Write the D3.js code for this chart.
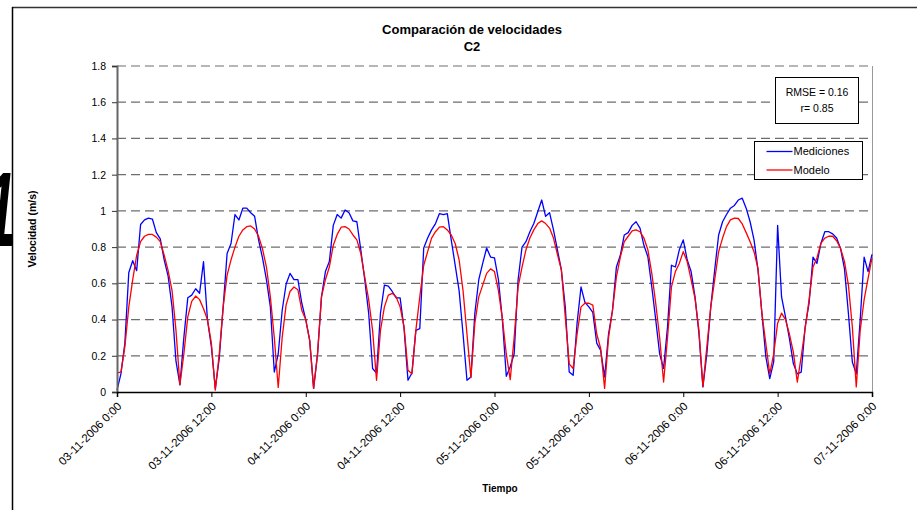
<!DOCTYPE html>
<html>
<head>
<meta charset="utf-8">
<script src="https://cdn.jsdelivr.net/npm/d3@7/dist/d3.min.js"></script>
<style>
  html, body { margin: 0; padding: 0; background: #fff; }
  svg { display: block; }
  text { font-family: Arial, "Liberation Sans", sans-serif; fill: #000; }
</style>
</head>
<body>
<svg id="chart" width="917" height="510"></svg>
<script>
// Half-hourly velocity series, 03-11-2006 0:00 to 07-11-2006 0:00 (m/s)
const startTime = "03-11-2006 0:00";
const stepMinutes = 30;

const mediciones = [
  0.01,0.10,0.27,0.66,0.725,0.67,0.925,0.95,0.96,0.955,0.88,0.845,0.73,0.64,0.47,0.17,0.04,0.30,0.52,0.535,0.57,0.545,0.72,0.40,
  0.25,0.02,0.185,0.47,0.765,0.82,0.98,0.95,1.015,1.015,0.99,0.97,0.84,0.74,0.62,0.47,0.11,0.21,0.45,0.595,0.655,0.62,0.62,0.49,
  0.40,0.285,0.02,0.21,0.525,0.665,0.72,0.92,0.98,0.96,1.005,0.99,0.945,0.94,0.785,0.62,0.435,0.13,0.105,0.435,0.59,0.585,0.555,0.52,
  0.52,0.35,0.065,0.105,0.34,0.35,0.795,0.85,0.895,0.93,0.985,0.98,0.985,0.84,0.70,0.56,0.32,0.065,0.083,0.435,0.62,0.71,0.795,0.745,
  0.74,0.62,0.40,0.087,0.14,0.21,0.62,0.80,0.83,0.885,0.93,0.995,1.06,0.97,0.99,0.895,0.785,0.675,0.47,0.11,0.092,0.38,0.58,0.495,
  0.47,0.44,0.27,0.23,0.083,0.32,0.45,0.69,0.755,0.867,0.88,0.92,0.94,0.905,0.81,0.747,0.58,0.40,0.21,0.13,0.36,0.70,0.69,0.785,
  0.84,0.73,0.665,0.525,0.32,0.028,0.21,0.47,0.675,0.867,0.94,0.98,1.015,1.03,1.06,1.07,1.015,0.94,0.84,0.675,0.435,0.195,0.074,0.166,
  0.92,0.525,0.415,0.295,0.157,0.10,0.11,0.36,0.49,0.745,0.71,0.82,0.885,0.885,0.873,0.85,0.793,0.68,0.435,0.166,0.10,0.40,0.745,0.665,
  0.76
];

const modelo = [
  0.105,0.11,0.25,0.47,0.62,0.755,0.83,0.86,0.87,0.87,0.855,0.83,0.755,0.67,0.56,0.34,0.04,0.21,0.415,0.50,0.53,0.51,0.46,0.40,
  0.27,0.01,0.21,0.47,0.645,0.73,0.80,0.86,0.895,0.913,0.917,0.90,0.86,0.79,0.69,0.525,0.30,0.025,0.30,0.48,0.555,0.58,0.565,0.45,
  0.40,0.285,0.02,0.21,0.525,0.62,0.69,0.81,0.87,0.91,0.913,0.90,0.867,0.84,0.765,0.635,0.51,0.34,0.065,0.34,0.47,0.535,0.545,0.525,
  0.47,0.36,0.12,0.10,0.34,0.525,0.70,0.775,0.85,0.885,0.91,0.913,0.895,0.867,0.82,0.73,0.56,0.32,0.08,0.38,0.525,0.59,0.655,0.68,
  0.665,0.56,0.405,0.21,0.068,0.30,0.58,0.69,0.785,0.85,0.895,0.93,0.945,0.93,0.905,0.85,0.76,0.675,0.415,0.155,0.13,0.32,0.47,0.49,
  0.49,0.48,0.32,0.24,0.02,0.30,0.45,0.635,0.745,0.83,0.86,0.89,0.895,0.885,0.85,0.785,0.655,0.49,0.30,0.055,0.30,0.58,0.665,0.71,
  0.775,0.72,0.62,0.515,0.34,0.03,0.25,0.47,0.62,0.775,0.85,0.913,0.95,0.96,0.958,0.928,0.88,0.83,0.775,0.683,0.435,0.268,0.10,0.21,
  0.38,0.435,0.40,0.32,0.22,0.055,0.195,0.35,0.51,0.69,0.74,0.82,0.85,0.86,0.86,0.835,0.793,0.72,0.59,0.36,0.028,0.34,0.51,0.627,
  0.74
];

const xTickLabels = [
  "03-11-2006 0:00","03-11-2006 12:00","04-11-2006 0:00","04-11-2006 12:00",
  "05-11-2006 0:00","05-11-2006 12:00","06-11-2006 0:00","06-11-2006 12:00","07-11-2006 0:00"
];
const yTicks = [0, 0.2, 0.4, 0.6, 0.8, 1, 1.2, 1.4, 1.6, 1.8];
const yTickLabels = ["0","0.2","0.4","0.6","0.8","1","1.2","1.4","1.6","1.8"];

const seriesNames = ["Mediciones", "Modelo"];
const seriesColors = ["#0000ff", "#ff0000"];
const statsLines = ["RMSE = 0.16", "r= 0.85"];

const parseTime = d3.timeParse("%d-%m-%Y %H:%M");
const t0 = parseTime(startTime);
const timeAt = i => d3.timeMinute.offset(t0, i * stepMinutes);
const xTickDates = xTickLabels.map(parseTime);

const svg = d3.select("#chart");

// page frame
svg.append("line").attr("x1", 12).attr("x2", 917).attr("y1", 7.5).attr("y2", 7.5)
  .attr("stroke", "#333").attr("stroke-width", 1.5);
svg.append("line").attr("x1", 12.5).attr("x2", 12.5).attr("y1", 7).attr("y2", 510)
  .attr("stroke", "#000").attr("stroke-width", 1.5);

// margin numeral
svg.append("text").text("1")
  .attr("transform", "translate(-15,246) scale(1,1.9)")
  .style("font-size", "56px").style("font-weight", "bold").style("font-style", "italic");

const plot = { left: 117, right: 872, top: 66, bottom: 392 };

const x = d3.scaleTime()
  .domain([xTickDates[0], xTickDates[xTickDates.length - 1]])
  .range([plot.left, plot.right]);
const y = d3.scaleLinear().domain([0, 1.8]).range([plot.bottom, plot.top]);

// dashed gridlines
svg.append("g").selectAll("line")
  .data(yTicks.filter(v => v > 0))
  .join("line")
  .attr("x1", plot.left).attr("x2", plot.right)
  .attr("y1", d => y(d)).attr("y2", d => y(d))
  .attr("stroke", "#6e6e6e").attr("stroke-width", 1.2)
  .attr("stroke-dasharray", "9,5");

// plot area right border
svg.append("line").attr("x1", plot.right + 0.5).attr("x2", plot.right + 0.5)
  .attr("y1", plot.top).attr("y2", plot.bottom)
  .attr("stroke", "#999").attr("stroke-width", 1);

// series
const line = d3.line()
  .x((d, i) => x(timeAt(i)))
  .y(d => y(d));

[mediciones, modelo].forEach((vals, k) => {
  svg.append("path")
    .datum(vals)
    .attr("d", line)
    .attr("fill", "none")
    .attr("stroke", seriesColors[k])
    .attr("stroke-width", 1.3)
    .attr("stroke-linejoin", "round");
});

// y axis
const yAxis = svg.append("g")
  .attr("transform", `translate(${plot.left},0)`)
  .call(d3.axisLeft(y).tickValues(yTicks).tickSize(5).tickPadding(6)
    .tickFormat((d, i) => yTickLabels[i]));
yAxis.select(".domain").attr("stroke", "#666").attr("stroke-width", 2);
yAxis.selectAll(".tick line").attr("stroke", "#333");
yAxis.selectAll(".tick text")
  .style("font-size", "10.5px").style("font-family", "Arial, 'Liberation Sans', sans-serif");

// x axis
const xAxis = svg.append("g")
  .attr("transform", `translate(0,${plot.bottom})`)
  .call(d3.axisBottom(x).tickValues(xTickDates).tickSize(5)
    .tickFormat((d, i) => xTickLabels[i]));
xAxis.select(".domain").attr("stroke", "#000").attr("stroke-width", 1.5);
xAxis.selectAll(".tick line").attr("stroke", "#000");
xAxis.selectAll(".tick text")
  .attr("x", 0).attr("y", 0).attr("dy", "0.35em")
  .attr("text-anchor", "end")
  .attr("transform", "translate(2,12) rotate(-45)")
  .style("font-size", "11.5px").style("font-family", "Arial, 'Liberation Sans', sans-serif");

// titles
svg.append("text").attr("x", 472).attr("y", 34).attr("text-anchor", "middle")
  .style("font-size", "13px").style("font-weight", "bold").text("Comparación de velocidades");
svg.append("text").attr("x", 472).attr("y", 51).attr("text-anchor", "middle")
  .style("font-size", "13px").style("font-weight", "bold").text("C2");
svg.append("text").attr("x", 500).attr("y", 492).attr("text-anchor", "middle")
  .style("font-size", "10px").style("font-weight", "bold").text("Tiempo");
svg.append("text").attr("transform", "translate(36,229) rotate(-90)").attr("text-anchor", "middle")
  .style("font-size", "10.5px").style("font-weight", "bold").text("Velocidad (m/s)");

// statistics box
svg.append("rect").attr("x", 775.5).attr("y", 77.5).attr("width", 83).attr("height", 46)
  .attr("fill", "#fff").attr("stroke", "#000").attr("stroke-width", 1);
statsLines.forEach((s, i) => {
  svg.append("text").attr("x", 817).attr("y", 96 + i * 16).attr("text-anchor", "middle")
    .style("font-size", "10.5px").text(s);
});

// legend
const lg = svg.append("g").attr("transform", "translate(754.5,141.5)");
lg.append("rect").attr("width", 108).attr("height", 38)
  .attr("fill", "#fff").attr("stroke", "#000").attr("stroke-width", 1);
seriesNames.forEach((name, i) => {
  const yy = 10 + i * 18.5;
  lg.append("line").attr("x1", 12).attr("x2", 38).attr("y1", yy).attr("y2", yy)
    .attr("stroke", seriesColors[i]).attr("stroke-width", 1.3);
  lg.append("text").attr("x", 39).attr("y", yy).attr("dy", "0.35em")
    .style("font-size", "11px").text(name);
});
</script>
</body>
</html>
